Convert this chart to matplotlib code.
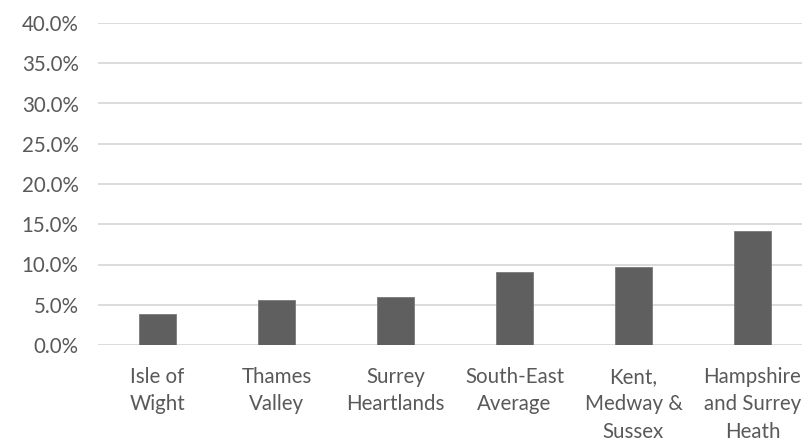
import matplotlib
matplotlib.use("Agg")
import matplotlib.pyplot as plt
from matplotlib.ticker import FuncFormatter, MultipleLocator

categories = ["Isle of\nWight", "Thames\nValley", "Surrey\nHeartlands",
              "South-East\nAverage", "Kent,\nMedway &\nSussex", "Hampshire\nand Surrey\nHeath"]
values = [3.8, 5.6, 6.0, 9.1, 9.75, 14.1]

plt.rcParams['font.family'] = ['Lato', 'DejaVu Sans']

fig = plt.figure(figsize=(8.03, 4.43), dpi=100)
ax = fig.add_axes([98/803, (443-345)/443, 714/803, 322/443])

x = list(range(len(categories)))
ax.bar(x, values, width=0.31, color='#5f5f5f', edgecolor='#7a7a7a', linewidth=0.6, zorder=3)

ax.set_xlim(-0.5, len(categories) - 0.5)
ax.set_ylim(0, 40)
ax.yaxis.set_major_locator(MultipleLocator(5))
ax.yaxis.set_major_formatter(FuncFormatter(lambda v, p: f"{v:.1f}%"))
ax.grid(axis='y', color='#d9d9d9', linewidth=1.3, zorder=0)
ax.set_axisbelow(True)
for s in ax.spines.values():
    s.set_visible(False)
ax.set_xticks(x)
ax.set_xticklabels(categories, linespacing=1.45)
ax.tick_params(axis='both', length=0, colors='#595959', labelsize=14.8)
ax.tick_params(axis='y', pad=14)
ax.tick_params(axis='x', pad=16)

fig.savefig("out.png", dpi=100)
